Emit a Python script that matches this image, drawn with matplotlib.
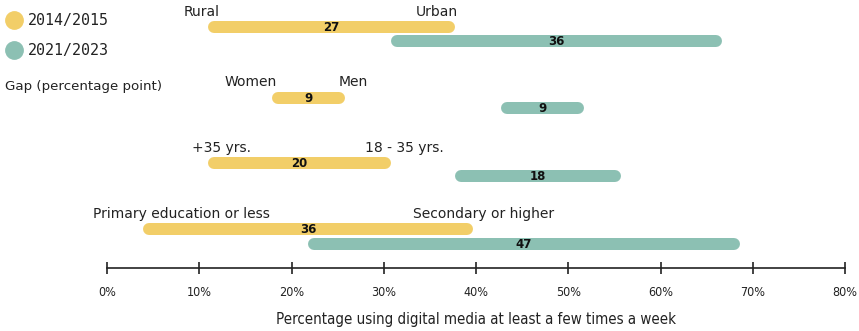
import matplotlib.pyplot as plt
from matplotlib.lines import Line2D

# data (percent using digital media)
groups = ["Rural/Urban", "Women/Men", "Age", "Education"]
low_labels = ["Rural", "Women", "+35 yrs.", "Primary education or less"]
high_labels = ["Urban", "Men", "18 - 35 yrs.", "Secondary or higher"]

low_2014 = [11.0, 17.9, 10.9, 3.9]
high_2014 = [37.7, 25.8, 30.8, 39.7]
low_2021 = [30.8, 42.7, 37.7, 21.8]
high_2021 = [66.7, 51.7, 55.7, 68.6]

gap_2014 = [27, 9, 20, 36]
gap_2021 = [36, 9, 18, 47]

yellow = "#F2CE68"
teal = "#8CC0B3"

W, H = 859, 331
fig = plt.figure(figsize=(W / 100, H / 100), dpi=100)
# axes spans pixel x 107..845, pixel y 0..268 (y in pixels, top = 0)
ax = fig.add_axes([107 / W, (H - 268) / H, 738 / W, 268 / H])
ax.set_xlim(0, 80)
ax.set_ylim(268, 0)

# layout (pixel rows)
y_2014 = [27, 98, 163, 229]
y_2021 = [41, 108, 176, 243.5]
y_lab = [12, 82, 148, 214]
# label centres (in % units) relative to bar ends
lab_low_off = [-0.7, -2.3, 1.5, 4.2]
lab_high_off = [-1.9, 0.9, 1.4, 1.1]

px_per_unit = 738 / 80
lw_px = 12
r = (lw_px / 2) / px_per_unit


def bar(x0, x1, y, color, gap):
    ax.plot([x0 + r, x1 - r], [y, y], color=color, lw=lw_px * 0.72,
            solid_capstyle="round", zorder=2)
    ax.text((x0 + x1) / 2, y + 0.5, str(gap), ha="center", va="center",
            fontsize=8.5, fontweight="bold", color="#111111", zorder=3)


for i in range(len(groups)):
    bar(low_2014[i], high_2014[i], y_2014[i], yellow, gap_2014[i])
    bar(low_2021[i], high_2021[i], y_2021[i], teal, gap_2021[i])
    ax.text(low_2014[i] + lab_low_off[i], y_lab[i], low_labels[i],
            ha="center", va="center", fontsize=10, color="#222222")
    ax.text(high_2014[i] + lab_high_off[i], y_lab[i], high_labels[i],
            ha="center", va="center", fontsize=10, color="#222222")

# axis styling
for s in ["top", "right", "left"]:
    ax.spines[s].set_visible(False)
ax.spines["bottom"].set_linewidth(1.2)
ax.spines["bottom"].set_color("#222222")
ax.set_yticks([])
ticks = list(range(0, 81, 10))
ax.set_xticks(ticks)
ax.set_xticklabels([f"{t}%" for t in ticks], fontsize=9,
                   fontstretch="condensed")
ax.tick_params(axis="x", direction="inout", length=8, width=1.2,
               color="#222222", pad=9, labelcolor="#222222")
ax.set_xlabel("Percentage using digital media at least a few times a week",
              fontsize=10.8, labelpad=9, color="#222222",
              fontstretch="condensed")

# legend (figure pixel coordinates)
for yy, c, t in [(20, yellow, "2014/2015"), (50, teal, "2021/2023")]:
    fig.add_artist(Line2D([14 / W], [1 - yy / H], marker="o", markersize=12.5,
                          color=c, transform=fig.transFigure))
    fig.text(28 / W, 1 - yy / H, t, ha="left", va="center", fontsize=10.8,
             family="DejaVu Sans Mono", color="#222222")
fig.text(5 / W, 1 - 87 / H, "Gap (percentage point)", ha="left", va="center",
         fontsize=9.6, color="#222222")

fig.savefig("out.png", dpi=100)
